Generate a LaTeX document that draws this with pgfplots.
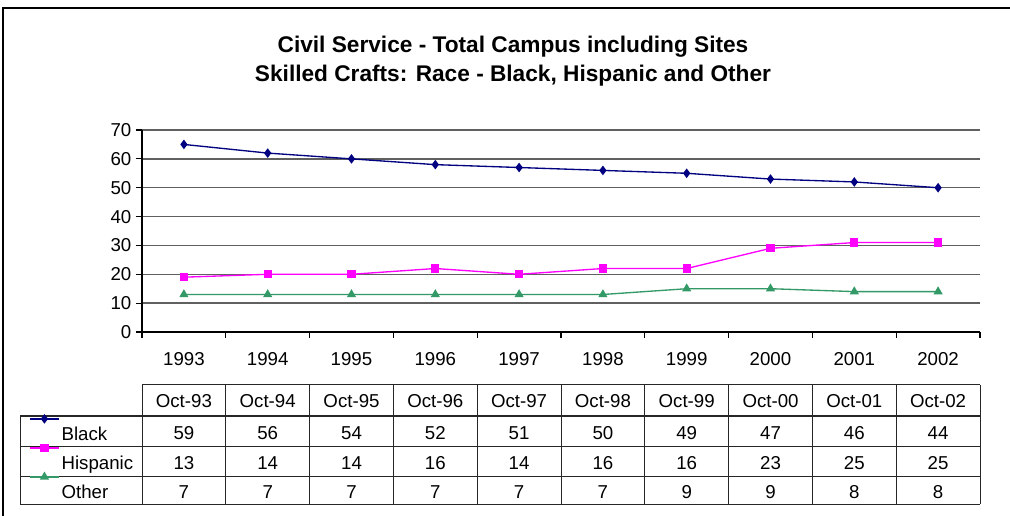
\documentclass[border=0pt]{standalone}
\usepackage{pgfplots}
\pgfplotsset{compat=1.18}
\usepackage{fontspec}
\setmainfont{Liberation Sans}
\definecolor{cblack}{RGB}{0,0,128}
\definecolor{chisp}{RGB}{255,0,255}
\definecolor{cother}{RGB}{51,153,102}
\newcommand{\tabfont}{\fontsize{14}{16}\selectfont}

\begin{document}
\begin{tikzpicture}
\path[use as bounding box] (0,0) rectangle (757.5pt,-387pt);
% data table grid first, so the legend samples sit on top of it
\begin{scope}[x=0.75pt, y=-0.75pt, line width=0.75pt, black!85]
  \draw (142,385) -- (980,385);
  \foreach \yy in {416,446,476,504} \draw (20,\yy) -- (980,\yy);
  \draw (20,416) -- (20,504);
  \foreach \i in {0,...,10} \draw ({142+83.8*\i},385) -- ({142+83.8*\i},504);
\end{scope}
\begin{axis}[
  at={(106.5pt,-249pt)}, anchor=south west,
  scale only axis, width=628.5pt, height=151.5pt,
  xmin=-0.5, xmax=9.5, ymin=0, ymax=70,
  axis x line=bottom, axis y line=left,
  axis line style={-, black, line width=0.9pt},
  xtick={-0.5,0.5,...,9.5},
  x tick label as interval,
  xticklabels={1993,1994,1995,1996,1997,1998,1999,2000,2001,2002},
  xticklabel style={yshift=-7pt},
  ytick={0,10,...,70},
  ymajorgrids, grid style={gray!75!black, line width=1pt},
  tick align=outside, major tick length=4.5pt,
  tick style={black, line width=0.9pt},
  ticklabel style={font=\tabfont},
  /pgf/number format/assume math mode=true,
  clip=false,
  legend cell align=left,
  legend style={at={(axis description cs:-0.13484,-0.4653)}, anchor=north west,
    draw=none, fill=none, inner sep=0pt, row sep=8.25pt, column sep=1.5pt,
    font=\tabfont, nodes={inner sep=0pt, text height=10.5pt, text depth=3pt}},
  legend image code/.code={
    \path (0pt,0pt) (21.75pt,0pt);
    \draw[overlay,mark repeat=2,mark phase=2,#1]
      plot coordinates {(0pt,12.3pt) (10.875pt,12.3pt) (21.75pt,12.3pt)};
  },
]
\addplot[cblack, line width=1pt, mark=diamond*, mark size=2.8pt,
  mark options={fill=cblack}]
  coordinates {(0,65) (1,62) (2,60) (3,58) (4,57) (5,56) (6,55) (7,53) (8,52) (9,50)};
\addlegendentry{Black}
\addplot[chisp, line width=1pt, mark=square*, mark size=2.6pt,
  mark options={fill=chisp}]
  coordinates {(0,19) (1,20) (2,20) (3,22) (4,20) (5,22) (6,22) (7,29) (8,31) (9,31)};
\addlegendentry{Hispanic}
\addplot[cother, line width=1pt, mark=triangle*, mark size=3pt,
  mark options={fill=cother}]
  coordinates {(0,13) (1,13) (2,13) (3,13) (4,13) (5,13) (6,15) (7,15) (8,14) (9,14)};
\addlegendentry{Other}
\end{axis}

\begin{scope}[x=0.75pt, y=-0.75pt]
  % titles
  \node[anchor=base, inner sep=0pt, font=\fontsize{17}{20}\selectfont\bfseries]
    at (513,53) {Civil Service - Total Campus including Sites};
  \node[anchor=base, inner sep=0pt, font=\fontsize{17}{20}\selectfont\bfseries]
    at (513,81.5) {Skilled Crafts: Race - Black, Hispanic and Other};
  % outer frame (top and left only visible)
  \draw[line width=1.2pt] (3,516) -- (3,8) -- (1010,8);
  % data table values
  \begin{scope}[every node/.style={anchor=base, inner sep=0pt, font=\tabfont}]
    \foreach \t [count=\i from 0] in {Oct-93,Oct-94,Oct-95,Oct-96,Oct-97,Oct-98,Oct-99,Oct-00,Oct-01,Oct-02}
      \node at ({183.9+83.8*\i},407) {\t};
    \foreach \t [count=\i from 0] in {59,56,54,52,51,50,49,47,46,44}
      \node at ({183.9+83.8*\i},440) {\t};
    \foreach \t [count=\i from 0] in {13,14,14,16,14,16,16,23,25,25}
      \node at ({183.9+83.8*\i},469) {\t};
    \foreach \t [count=\i from 0] in {7,7,7,7,7,7,9,9,8,8}
      \node at ({183.9+83.8*\i},498) {\t};
  \end{scope}
\end{scope}
\end{tikzpicture}
\end{document}
